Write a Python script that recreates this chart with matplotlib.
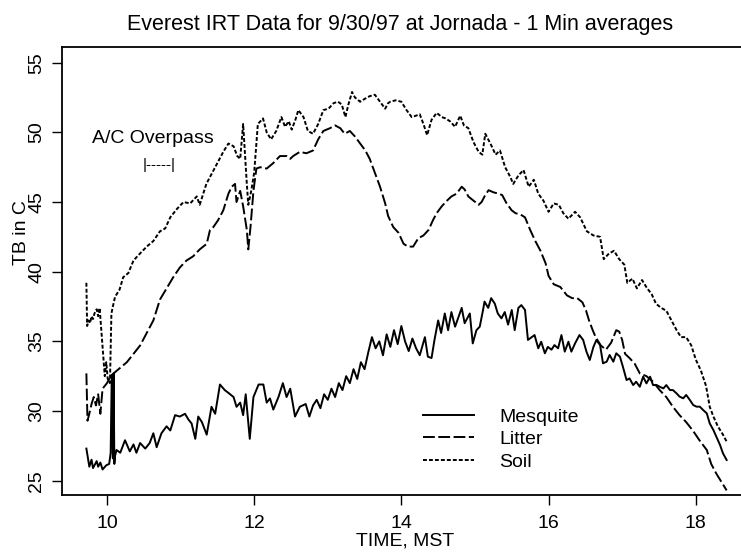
"""Everest IRT 数据图 (9/30/97, Jornada, 1 分钟平均)"""

import matplotlib
matplotlib.use("Agg")
import matplotlib.pyplot as plt

plt.rcParams["font.family"] = ["Liberation Sans", "DejaVu Sans"]
plt.rcParams["lines.scale_dashes"] = False

# ── 数据 ─────────────────────────────────────────────
mesq_t = [9.72, 9.76, 9.79, 9.81, 9.86, 9.88, 9.91, 9.94, 9.99, 10.03, 10.05,
          10.065, 10.08, 10.09, 10.10, 10.11, 10.13, 10.18, 10.245, 10.31, 10.36,
          10.40, 10.45, 10.52, 10.58, 10.63, 10.675, 10.74, 10.81, 10.86, 10.925,
          10.99, 11.06, 11.105, 11.15, 11.2, 11.24, 11.29, 11.355, 11.42, 11.47,
          11.535, 11.60, 11.65, 11.72, 11.76, 11.81, 11.85, 11.885, 11.94, 11.99,
          12.06, 12.125, 12.17, 12.215, 12.26, 12.33, 12.39, 12.44, 12.49, 12.555,
          12.62, 12.7, 12.75, 12.8, 12.85, 12.9, 12.95, 13.0, 13.05, 13.1, 13.15,
          13.2, 13.25, 13.3, 13.35, 13.4, 13.45, 13.5, 13.55, 13.6, 13.65, 13.7,
          13.75, 13.8, 13.85, 13.9, 13.95, 14.0, 14.05, 14.1, 14.15, 14.2,
          14.25, 14.32, 14.36, 14.41, 14.45, 14.5, 14.54, 14.59, 14.635, 14.68,
          14.73, 14.77, 14.82, 14.86, 14.93, 14.97, 15.02, 15.065, 15.11, 15.13,
          15.18, 15.22, 15.27, 15.31, 15.36, 15.405, 15.45, 15.5, 15.54, 15.59,
          15.63, 15.68, 15.72, 15.77, 15.81, 15.86, 15.9, 15.95, 15.99, 16.04,
          16.08, 16.13, 16.175, 16.22, 16.27, 16.31, 16.36, 16.42, 16.47, 16.515,
          16.56, 16.61, 16.65, 16.70, 16.74, 16.79, 16.83, 16.88, 16.92, 16.97,
          17.01, 17.06, 17.10, 17.15, 17.19, 17.24, 17.285, 17.33, 17.38, 17.42,
          17.47, 17.51, 17.56, 17.60, 17.65, 17.69, 17.74, 17.78, 17.83, 17.87,
          17.92, 17.965, 18.01, 18.055, 18.10, 18.15, 18.19, 18.24, 18.28, 18.33,
          18.37, 18.42]
mesq_tb = [27.3, 26.0, 26.5, 25.9, 26.4, 26.0, 26.3, 25.8, 26.1, 26.2, 27.0,
           32.6, 26.6, 32.7, 26.2, 26.8, 27.2, 27.0, 27.9, 27.1, 27.6,
           27.0, 27.7, 27.3, 27.7, 28.4, 27.4, 28.4, 28.9, 28.6, 29.7,
           29.6, 29.8, 29.4, 29.1, 28.0, 29.6, 29.2, 28.3, 30.3, 29.8,
           31.9, 31.5, 31.3, 31.0, 30.3, 30.6, 29.7, 31.2, 28.0, 31.0,
           31.9, 31.9, 30.6, 30.9, 30.1, 31.0, 32.0, 31.0, 31.6, 29.6,
           30.3, 30.5, 29.6, 30.4, 30.8, 30.2, 31.2, 30.8, 31.6, 31.0, 32.0,
           31.5, 32.5, 32.0, 33.0, 32.3, 33.5, 33.0, 34.2, 35.3, 34.5, 35.0,
           34.0, 35.5, 34.6, 35.8, 34.8, 36.1, 35.0, 34.3, 35.2, 34.5,
           34.0, 35.3, 33.9, 33.8, 35.1, 36.5, 35.6, 37.0, 35.8, 37.1,
           36.05, 36.65, 37.4, 36.3, 37.0, 34.85, 35.8, 36.05, 37.25, 37.85,
           37.4, 38.1, 37.7, 37.0, 36.65, 37.1, 36.2, 37.25, 35.8, 37.4,
           37.6, 37.25, 35.1, 35.3, 35.45, 34.5, 34.97, 34.14, 34.6, 34.4,
           34.73, 34.5, 35.45, 34.26, 34.97, 34.26, 34.85, 35.45, 35.1, 34.26,
           33.66, 34.6, 35.09, 34.73, 33.42, 33.54, 34.02, 33.54, 34.14, 33.9,
           33.18, 32.22, 32.34, 31.86, 32.1, 31.74, 32.46, 31.98, 32.46, 31.86,
           31.86, 31.74, 31.62, 31.86, 31.5, 31.5, 31.26, 31.03, 30.91, 31.15,
           30.79, 30.43, 30.31, 30.31, 30.07, 29.83, 29.11, 28.63, 28.15, 27.56,
           26.96, 26.48]

litter_t = [9.72, 9.735, 9.76, 9.79, 9.82, 9.85, 9.88, 9.91, 9.94, 9.97, 10.0,
            10.04, 10.09, 10.18, 10.27, 10.36, 10.45, 10.54, 10.63, 10.72, 10.81,
            10.9, 10.99, 11.08, 11.17, 11.26, 11.355, 11.4, 11.445, 11.51, 11.58,
            11.65, 11.695, 11.74, 11.76, 11.81, 11.85, 11.90, 11.92, 11.95, 11.99,
            12.03, 12.08, 12.17, 12.26, 12.35, 12.44, 12.49, 12.53, 12.62, 12.71,
            12.80, 12.87, 12.94, 13.03, 13.10, 13.17, 13.23, 13.30, 13.37, 13.44,
            13.51, 13.57, 13.64, 13.71, 13.78, 13.82, 13.89, 13.96, 14.03, 14.09,
            14.16, 14.23, 14.30, 14.37, 14.43, 14.48, 14.55, 14.62, 14.68, 14.75,
            14.82, 14.86, 14.91, 14.98, 15.05, 15.09, 15.14, 15.185, 15.25, 15.32,
            15.37, 15.43, 15.50, 15.55, 15.62, 15.68, 15.75, 15.82, 15.89, 15.96,
            16.0, 16.07, 16.16, 16.25, 16.32, 16.39, 16.46, 16.51, 16.55, 16.6,
            16.64, 16.71, 16.78, 16.85, 16.92, 16.96, 17.0, 17.04, 17.1, 17.17,
            17.24, 17.33, 17.42, 17.51, 17.6, 17.69, 17.78, 17.87, 17.96, 18.05,
            18.15, 18.21, 18.28, 18.35, 18.42]
litter_tb = [32.7, 29.3, 29.8, 30.5, 31.0, 30.4, 31.2, 29.8, 31.6, 31.8, 32.0,
             32.4, 32.7, 33.1, 33.5, 34.1, 34.7, 35.6, 36.5, 38.0, 38.8,
             39.6, 40.3, 40.8, 41.1, 41.6, 42.0, 43.0, 43.2, 43.7, 44.4,
             45.6, 46.1, 46.3, 45.0, 45.8, 44.7, 43.0, 41.6, 43.2, 45.8,
             47.4, 47.5, 47.4, 47.8, 48.3, 48.3, 48.1, 48.3, 48.6, 48.5,
             48.7, 49.5, 50.1, 50.3, 50.5, 50.3, 49.9, 50.1, 49.7, 49.2,
             48.7, 48.1, 47.1, 46.1, 44.9, 44.0, 43.2, 42.8, 42.0, 41.8,
             41.8, 42.4, 42.6, 43.0, 43.7, 44.2, 44.7, 45.1, 45.4, 45.6,
             46.1, 45.9, 45.4, 45.1, 44.8, 45.0, 45.5, 45.85, 45.7, 45.6,
             45.5, 44.9, 44.4, 44.2, 44.1, 43.9, 43.0, 42.2, 41.5, 40.6,
             39.7, 39.1, 38.9, 38.3, 38.1, 38.1, 37.8, 37.2, 36.5, 35.8,
             35.3, 34.7, 34.4, 34.9, 35.8, 35.7, 35.1, 34.1, 33.8, 33.4,
             32.7, 32.5, 32.1, 31.5, 31.0, 30.3, 29.7, 29.2, 28.6, 27.9,
             27.2, 26.2, 25.5, 24.9, 24.3]

soil_t = [9.72, 9.73, 9.75, 9.77, 9.79, 9.81, 9.83, 9.86, 9.88, 9.9, 9.92,
          9.94, 9.97, 9.99, 10.01, 10.04, 10.06, 10.08, 10.11, 10.17, 10.22,
          10.29, 10.36, 10.43, 10.54, 10.63, 10.72, 10.79, 10.86, 10.95, 11.04,
          11.13, 11.22, 11.26, 11.35, 11.45, 11.52, 11.58, 11.65, 11.72, 11.77,
          11.81, 11.85, 11.9, 11.92, 11.96, 12.0, 12.05, 12.12, 12.17, 12.23,
          12.3, 12.37, 12.42, 12.47, 12.51, 12.56, 12.6, 12.67, 12.73, 12.8,
          12.87, 12.94, 13.01, 13.08, 13.14, 13.19, 13.24, 13.28, 13.33, 13.37,
          13.44, 13.5, 13.57, 13.64, 13.71, 13.78, 13.82, 13.85, 13.92, 14.0,
          14.07, 14.14, 14.2, 14.25, 14.3, 14.35, 14.41, 14.48, 14.55, 14.6,
          14.66, 14.73, 14.8, 14.85, 14.91, 14.98, 15.05, 15.1, 15.14, 15.21,
          15.28, 15.34, 15.41, 15.48, 15.52, 15.59, 15.66, 15.73, 15.8, 15.86,
          15.93, 16.0, 16.07, 16.14, 16.2, 16.27, 16.36, 16.43, 16.52, 16.61,
          16.7, 16.75, 16.82, 16.89, 16.96, 17.03, 17.07, 17.14, 17.2, 17.27,
          17.34, 17.4, 17.46, 17.53, 17.6, 17.67, 17.74, 17.8, 17.87, 17.94,
          18.0, 18.07, 18.14, 18.19, 18.24, 18.3, 18.37, 18.42]
soil_tb = [39.2, 36.1, 36.5, 36.3, 36.8, 36.6, 37.0, 37.3, 36.8, 37.4, 36.0,
           34.5, 32.5, 33.5, 32.3, 32.0, 37.0, 37.5, 38.2, 38.7, 39.6,
           39.9, 40.8, 41.2, 41.8, 42.2, 42.9, 43.1, 43.9, 44.5, 45.0,
           44.9, 45.4, 44.8, 46.3, 47.3, 48.0, 48.6, 49.2, 49.0, 48.3,
           48.1, 50.6, 46.3, 44.8, 45.8, 47.1, 50.6, 51.0, 50.0, 49.5,
           50.1, 51.1, 50.4, 50.8, 50.2, 50.9, 51.6, 51.1, 50.1, 49.9,
           50.6, 51.6, 51.7, 52.1, 52.2, 52.0, 51.1, 52.0, 52.9, 52.5,
           52.2, 52.4, 52.6, 52.7, 52.2, 51.7, 52.1, 52.2, 52.3, 52.2,
           51.6, 51.1, 51.2, 51.3, 50.6, 49.8, 50.9, 51.4, 51.1, 51.0,
           50.8, 50.4, 51.2, 50.5, 50.3, 49.3, 48.6, 48.4, 49.9, 49.2,
           48.4, 48.7, 47.5, 46.8, 46.3, 46.9, 47.3, 46.1, 46.6, 45.6,
           45.1, 44.3, 44.9, 44.8, 44.2, 43.8, 44.3, 43.9, 42.9, 42.6,
           42.5, 40.9, 41.3, 41.5, 40.9, 40.5, 39.2, 39.5, 38.8, 39.4,
           38.8, 38.4, 37.7, 37.4, 37.2, 36.5, 35.8, 35.3, 35.3, 34.7,
           33.7, 32.9, 31.8, 30.3, 29.6, 28.9, 28.3, 27.8]

x_ticks = [10, 12, 14, 16, 18]
y_ticks = [25, 30, 35, 40, 45, 50, 55]

FS = 14

fig = plt.figure(figsize=(7.41, 5.52), dpi=100)
ax = fig.add_axes([0.0833, 0.1033, 0.9167, 0.8121])

LW = 1.4
ax.plot(mesq_t, mesq_tb, color="black", lw=LW, ls="-", label="Mesquite")
ax.plot(litter_t, litter_tb, color="black", lw=LW, ls=(0, (8.5, 2.5)), label="Litter")
ax.plot(soil_t, soil_tb, color="black", lw=LW, ls=(0, (2.8, 1.5)), label="Soil")

ax.set_xlim(9.385, 18.615)
ax.set_ylim(23.97, 56.15)
ax.set_xticks(x_ticks)
ax.set_yticks(y_ticks)
ax.tick_params(axis="x", direction="out", length=7, width=1, pad=7.5, labelsize=FS)
ax.tick_params(axis="y", direction="out", length=7, width=1, pad=5, labelsize=FS)
for lab in ax.get_yticklabels():
    lab.set_rotation(90)
    lab.set_va("center")
for side in ["left", "bottom", "top"]:
    ax.spines[side].set_linewidth(1.3)
ax.spines["right"].set_visible(False)

ax.set_xlabel("TIME, MST", fontsize=FS)
ax.xaxis.set_label_coords(0.505, -0.084)
ax.set_ylabel("TB in C", fontsize=FS)
ax.yaxis.set_label_coords(-0.046, 0.585)

fig.text(0.54, 0.9457, "Everest IRT Data for 9/30/97 at Jornada - 1 Min averages",
         ha="center", va="baseline", fontsize=15.5)

# 飞机过境标注
ax.text(10.62, 49.24, "A/C Overpass", ha="center", va="baseline", fontsize=FS)
ax.text(10.71, 47.66, "|-----|", ha="center", va="center", fontsize=11)

ax.legend(loc="upper left", bbox_to_anchor=(0.532, 0.194), frameon=False,
          fontsize=FS, handlelength=2.6, handletextpad=1.3, labelspacing=0.25,
          borderpad=0, borderaxespad=0)

fig.savefig("out.png", dpi=100)
